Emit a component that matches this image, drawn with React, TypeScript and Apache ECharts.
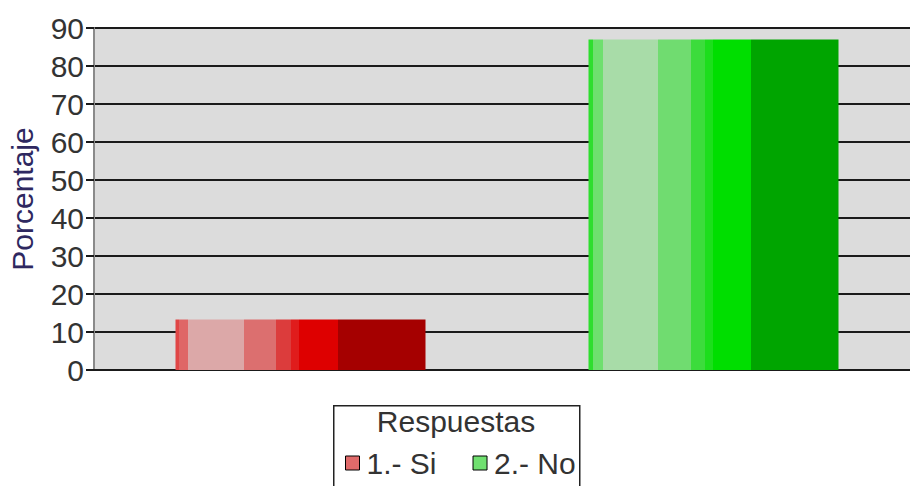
import React, { useEffect, useRef } from "react";
import * as echarts from "echarts";

const categories = ["1.- Si", "2.- No"];
const siValues = [13.3, "-"];
const noValues = ["-", 87.0];
const yTicks = { min: 0, max: 90, interval: 10 };
const axisName = "Porcentaje";
const legendTitle = "Respuestas";

const redStops: [number, number, string][] = [
  [0, 0.016, "#e04646"],
  [0.016, 0.049, "#df6666"],
  [0.049, 0.274, "#dca8a8"],
  [0.274, 0.404, "#dc6f6f"],
  [0.404, 0.462, "#dc3c3c"],
  [0.462, 0.495, "#e01c1c"],
  [0.495, 0.65, "#de0000"],
  [0.65, 1, "#a50000"],
];
const greenStops: [number, number, string][] = [
  [0, 0.016, "#2ede2e"],
  [0.016, 0.056, "#6ee06e"],
  [0.056, 0.279, "#a8dca8"],
  [0.279, 0.41, "#70dc70"],
  [0.41, 0.465, "#3cdc3c"],
  [0.465, 0.499, "#1cde1c"],
  [0.499, 0.652, "#00de00"],
  [0.652, 1, "#00a500"],
];

function striped(stops: [number, number, string][]) {
  const cs: { offset: number; color: string }[] = [];
  stops.forEach(([a, b, c]) => {
    cs.push({ offset: a, color: c });
    cs.push({ offset: b, color: c });
  });
  return new echarts.graphic.LinearGradient(0, 0, 1, 0, cs);
}

export default function App() {
  const ref = useRef<HTMLDivElement>(null);
  useEffect(() => {
    if (!ref.current) return;
    const chart = echarts.init(ref.current, null, { renderer: "svg" });
    const font = "'Liberation Sans', Arial, sans-serif";
    chart.setOption({
      animation: false,
      backgroundColor: "#ffffff",
      grid: {
        left: 94,
        top: 28,
        width: 826,
        height: 342,
        show: true,
        backgroundColor: "#dcdcdc",
        borderWidth: 0,
        containLabel: false,
        outerBoundsMode: "none",
      },
      xAxis: {
        type: "category",
        data: categories,
        axisLabel: { show: false },
        axisTick: { show: false },
        axisLine: { show: true, lineStyle: { color: "#1a1a1a", width: 2 } },
        splitLine: { show: false },
      },
      yAxis: {
        type: "value",
        min: yTicks.min,
        max: yTicks.max,
        interval: yTicks.interval,
        name: axisName,
        nameLocation: "middle",
        nameRotate: 90,
        nameGap: 57,
        nameTextStyle: { fontSize: 30, color: "#2e2860", fontFamily: font },
        axisLabel: { fontSize: 30, color: "#333333", margin: 10, fontFamily: font },
        axisTick: { show: true, length: 8, lineStyle: { color: "#1a1a1a", width: 2 } },
        axisLine: { show: true, lineStyle: { color: "#8a8a8a", width: 2 } },
        splitLine: { show: true, lineStyle: { color: "#1a1a1a", width: 2 } },
      },
      legend: {
        left: 340,
        top: 443,
        itemWidth: 14,
        itemHeight: 14,
        itemGap: 36,
        icon: "rect",
        textStyle: { fontSize: 30, color: "#333333", fontFamily: font, padding: [0, 0, 0, 2] },
        data: [
          { name: categories[0], itemStyle: { color: "#e06a6a", borderColor: "#000", borderWidth: 1 } },
          { name: categories[1], itemStyle: { color: "#70e070", borderColor: "#000", borderWidth: 1 } },
        ],
      },
      graphic: [
        {
          type: "rect",
          left: 333,
          top: 405,
          shape: { width: 246, height: 100 },
          style: { fill: "#ffffff", stroke: "#222222", lineWidth: 1.5 },
          z: -1,
        },
        {
          type: "text",
          x: 456,
          y: 421,
          style: {
            text: legendTitle,
            fontSize: 30,
            fill: "#333333",
            fontFamily: font,
            align: "center",
            verticalAlign: "middle",
          },
        },
      ],
      series: [
        {
          name: categories[0],
          type: "bar",
          data: siValues,
          barWidth: 250,
          barGap: "-100%",
          itemStyle: { color: striped(redStops) },
        },
        {
          name: categories[1],
          type: "bar",
          data: noValues,
          barWidth: 250,
          barGap: "-100%",
          itemStyle: { color: striped(greenStops) },
        },
      ],
    });
    return () => chart.dispose();
  }, []);
  return <div ref={ref} style={{ width: 910, height: 486, position: "absolute", left: 0, top: 0 }} />;
}
